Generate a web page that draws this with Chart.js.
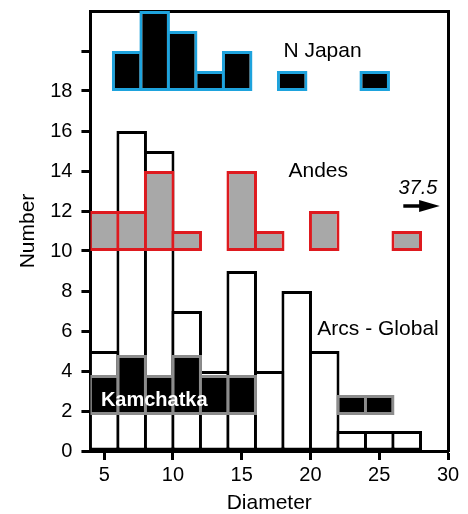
<!DOCTYPE html>
<html>
<head>
<meta charset="utf-8">
<script src="https://cdn.jsdelivr.net/npm/chart.js@4.4.0/dist/chart.umd.min.js"></script>
<style>
  html, body { margin: 0; padding: 0; background: #fff; }
  #wrap { width: 468px; height: 514px; }
</style>
</head>
<body>
<div id="wrap"><canvas id="chart"></canvas></div>
<script>
// Histogram bins (left edge of each 2-unit diameter bin)
const binStarts = [4, 6, 8, 10, 12, 14, 16, 18, 20, 22, 24, 26];

// Counts per bin
const arcsGlobal = [5, 16, 15, 7, 4, 9, 4, 8, 5, 1, 1, 1];
const kamchatka  = [2, 3, 2, 3, 2, 2, 0, 0, 0, 1, 1, 0];
const andes      = [2, 2, 4, 1, 0, 4, 1, 0, 2, 0, 0, 1];
const nJapan     = [0, 2, 4, 3, 1, 2, 0, 1, 0, 0, 1, 0];

// Each histogram is drawn on top of a vertical offset
const kamchatkaBase = 1.8;
const andesBase = 10;
const nJapanBase = 18;

// Axis ticks
const xTicks = [5, 10, 15, 20, 25, 30];
const yTicks = [0, 2, 4, 6, 8, 10, 12, 14, 16, 18, 20];

const FONT = '"Liberation Sans", Arial, Helvetica, sans-serif';

function toBars(counts, base) {
    const pts = [];
    counts.forEach((c, i) => {
        if (c > 0) pts.push({ x: binStarts[i] + 1, y: [base, base + c] });
    });
    return pts;
}

const barStyle = {
    borderWidth: 3,
    borderSkipped: false,
    grouped: false,
    barPercentage: 1.11,
    categoryPercentage: 1
};

// Text labels and the "37.5" arrow, placed in data coordinates
const notes = {
    id: 'notes',
    afterDatasetsDraw(chart) {
        const { ctx, scales: { x, y } } = chart;
        const px = v => x.getPixelForValue(v);
        const py = v => y.getPixelForValue(v);
        ctx.save();
        ctx.textBaseline = 'alphabetic';
        ctx.textAlign = 'left';
        ctx.fillStyle = '#000';
        ctx.font = '21px ' + FONT;
        ctx.fillText('N Japan', px(18.03), py(19.68));
        ctx.fillText('Andes', px(18.4), py(13.7));
        ctx.fillText('Arcs - Global', px(20.5), py(5.79));

        ctx.font = 'italic 20px ' + FONT;
        ctx.fillText('37.5', px(26.4), py(12.83));

        ctx.fillStyle = '#fff';
        ctx.font = 'bold 20px ' + FONT;
        ctx.fillText('Kamchatka', px(4.76), py(2.26));

        // arrow
        const ay = py(12.25);
        ctx.strokeStyle = '#000';
        ctx.fillStyle = '#000';
        ctx.lineWidth = 3.5;
        ctx.beginPath();
        ctx.moveTo(px(26.75), ay);
        ctx.lineTo(px(28.2), ay);
        ctx.stroke();
        ctx.beginPath();
        ctx.moveTo(px(29.4), ay);
        ctx.lineTo(px(27.9), ay - 6);
        ctx.lineTo(px(27.9), ay + 6);
        ctx.closePath();
        ctx.fill();
        ctx.restore();
    }
};

new Chart(document.getElementById('chart'), {
    type: 'bar',
    data: {
        datasets: [
            { label: 'N Japan', data: toBars(nJapan, nJapanBase), xAxisID: 'x2',
              backgroundColor: '#000', borderColor: '#1ea3dd', ...barStyle },
            { label: 'Andes', data: toBars(andes, andesBase),
              backgroundColor: '#a8a8a8', borderColor: '#de1a1f', ...barStyle },
            { label: 'Kamchatka', data: toBars(kamchatka, kamchatkaBase),
              backgroundColor: '#000', borderColor: '#8c8c8c', ...barStyle },
            { label: 'Arcs - Global', data: toBars(arcsGlobal, 0),
              backgroundColor: '#fff', borderColor: '#000', ...barStyle }
        ]
    },
    options: {
        responsive: true,
        maintainAspectRatio: false,
        animation: false,
        layout: { padding: { left: 12, right: 20, top: 0, bottom: 0 } },
        plugins: { legend: { display: false }, tooltip: { enabled: false } },
        scales: {
            x: {
                type: 'linear', min: 4, max: 30, offset: false,
                afterBuildTicks: a => { a.ticks = xTicks.map(v => ({ value: v })); },
                grid: { offset: false, drawOnChartArea: false, tickLength: 9, tickWidth: 3, tickColor: '#000' },
                border: { display: true, width: 3, color: '#000' },
                ticks: { color: '#000', font: { family: FONT, size: 20 }, padding: 3, maxRotation: 0 },
                title: { display: true, text: 'Diameter', color: '#000',
                         font: { family: FONT, size: 21, lineHeight: 1 }, padding: { top: 3, bottom: 0 } }
            },
            x2: {
                type: 'linear', position: 'top', min: 4.33, max: 30.33, offset: false,
                grid: { display: false, drawTicks: false }, ticks: { display: false },
                border: { display: true, width: 3, color: '#000' }
            },
            y: {
                min: 0, max: 22,
                afterBuildTicks: a => { a.ticks = yTicks.map(v => ({ value: v })); },
                grid: { drawOnChartArea: false, tickLength: 9, tickWidth: 3, tickColor: '#000' },
                border: { display: true, width: 3, color: '#000' },
                ticks: { color: '#000', font: { family: FONT, size: 20, lineHeight: 0.2 }, padding: 9,
                         callback: v => (v === 20 ? '' : v) },
                title: { display: true, text: 'Number', color: '#000',
                         font: { family: FONT, size: 21 }, padding: { top: 4, bottom: 0 } }
            },
            y2: {
                position: 'right', min: 0, max: 22,
                grid: { display: false, drawTicks: false }, ticks: { display: false },
                border: { display: true, width: 3, color: '#000' }
            }
        }
    },
    plugins: [notes]
});
</script>
</body>
</html>
